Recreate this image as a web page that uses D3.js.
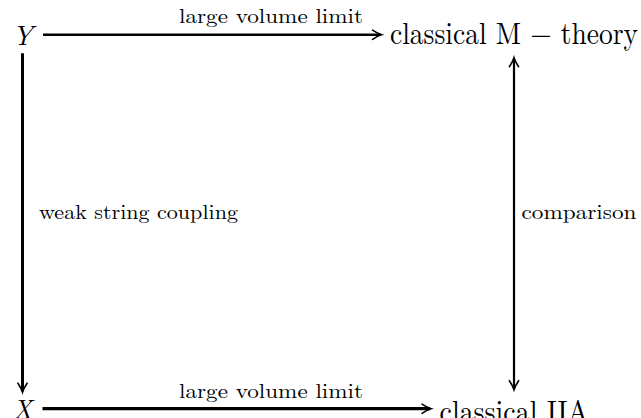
<!DOCTYPE html>
<html><head><meta charset="utf-8">
<script src="https://cdn.jsdelivr.net/npm/d3@7"></script>
<style>html,body{margin:0;padding:0;background:#fff;overflow:hidden}</style>
</head><body>
<svg id="c" width="641" height="418"></svg>
<script>
// ---- data ----
const nodeLabels = ["Y", "classical M − theory", "X", "classical IIA"];
const nodeItalic = [true, false, true, false];
const nodeCols = [0, 1, 0, 1];
const nodeRows = [0, 0, 1, 1];
const arrowFrom = [0, 0, 2, 3];
const arrowTo = [1, 2, 3, 1];
const arrowLabels = ["large volume limit", "weak string coupling", "large volume limit", "comparison"];
const arrowDouble = [false, false, false, true];

// ---- layout ----
const svg = d3.select("#c");
const x = d3.scalePoint().domain([0, 1]).range([22.5, 514]);
const y = d3.scalePoint().domain([0, 1]).range([34.7, 408.7]);
const font = "'Latin Modern Roman','CMU Serif','Liberation Serif','DejaVu Serif',serif";
const nodeW = [21, 248, 20, 149];
const nodeFs = [27, 31, 27, 31];
const baseOff = [10.5, 9.5, 10, 13];

const nodes = nodeLabels.map((t, i) => ({t, i, cx: x(nodeCols[i]), cy: y(nodeRows[i]), w: nodeW[i]}));

svg.selectAll("text.node").data(nodes).join("text")
  .attr("class", "node")
  .attr("x", d => d.cx).attr("y", d => d.cy + baseOff[d.i])
  .attr("text-anchor", "middle")
  .attr("font-family", font)
  .attr("font-size", d => nodeFs[d.i])
  .attr("font-style", d => nodeItalic[d.i] ? "italic" : "normal")
  .attr("textLength", d => d.w).attr("lengthAdjust", "spacingAndGlyphs")
  .attr("fill", "#000")
  .text(d => d.t);

function head(g, tx, ty, ang) {
  g.append("path")
    .attr("d", "M-9,-4.6 Q-3.5,-1 0,0 Q-3.5,1 -9,4.6")
    .attr("transform", `translate(${tx},${ty}) rotate(${ang})`)
    .attr("fill", "none").attr("stroke", "#000").attr("stroke-width", 1.6)
    .attr("stroke-linecap", "round");
}

const arrows = arrowFrom.map((f, k) => ({f: nodes[f], t: nodes[arrowTo[k]], label: arrowLabels[k], dbl: arrowDouble[k], k}));
const g = svg.append("g");
const hGapL = 10, hGapR = 8.5;
const labelW = {"large volume limit": 184, "weak string coupling": 199, "comparison": 115};
const labelFs = 20.5;

arrows.forEach(a => {
  let x1, y1, x2, y2, sw;
  if (a.f.cy === a.t.cy) { // horizontal
    const left = a.f.cx < a.t.cx ? a.f : a.t, right = left === a.f ? a.t : a.f;
    y1 = y2 = a.f.cy;
    x1 = left.cx + left.w / 2 + hGapL;
    x2 = right.cx - right.w / 2 - hGapR;
    sw = a.k === 2 ? 3.2 : 2.6;
    g.append("line").attr("x1", x1).attr("y1", y1).attr("x2", x2 - 1).attr("y2", y2)
      .attr("stroke", "#000").attr("stroke-width", sw);
    head(g, x2, y2, 0);
    g.append("text").attr("x", 179).attr("y", y1 - (a.k === 0 ? 11.5 : 11))
      .attr("font-family", font).attr("font-size", labelFs)
      .attr("textLength", labelW[a.label]).attr("lengthAdjust", "spacingAndGlyphs")
      .attr("fill", "#000").text(a.label);
  } else { // vertical
    x1 = x2 = a.f.cx;
    const top = a.f.cy < a.t.cy ? a.f : a.t;
    const bot = top === a.f ? a.t : a.f;
    if (a.dbl) { y1 = top.cy + 23; y2 = bot.cy - 19; sw = 2.2; }
    else { y1 = top.cy + 18.5; y2 = bot.cy - 16.5; sw = 3; }
    g.append("line").attr("x1", x1).attr("y1", a.dbl ? y1 + 1 : y1).attr("x2", x2).attr("y2", y2 - 1)
      .attr("stroke", "#000").attr("stroke-width", sw);
    head(g, x2, y2, 90);
    if (a.dbl) head(g, x1, y1, -90);
    const lx = a.dbl ? x1 + 7.5 : x1 + 16.5;
    g.append("text").attr("x", lx).attr("y", 219)
      .attr("font-family", font).attr("font-size", labelFs)
      .attr("textLength", labelW[a.label]).attr("lengthAdjust", "spacingAndGlyphs")
      .attr("fill", "#000").text(a.label);
  }
});
</script>
</body></html>
